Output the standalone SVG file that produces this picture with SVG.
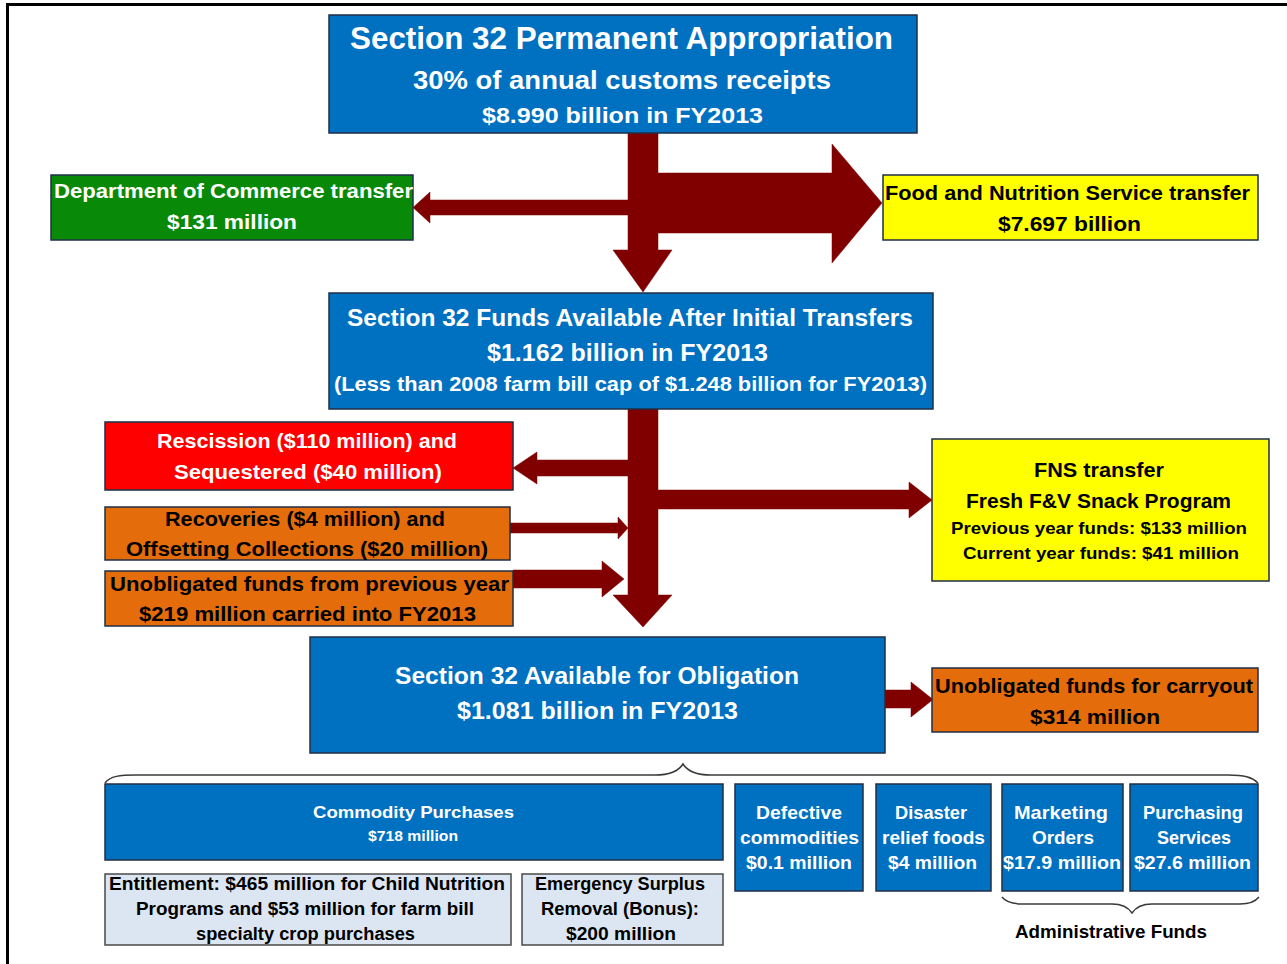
<svg xmlns="http://www.w3.org/2000/svg" width="1287" height="964" viewBox="0 0 1287 964">
<style>
.bx{stroke:#1f2f46;stroke-width:1.5}
.blue{fill:#0070c0}
.green{fill:#088a08}
.yellow{fill:#ffff00}
.red{fill:#ff0000}
.orange{fill:#e46c0a}
.light{fill:#dce6f2;stroke:#4a4a4a}
.t{font-family:"Liberation Sans",Arial,sans-serif;font-weight:bold;text-anchor:middle}
.w{fill:#ffffff}
.k{fill:#000000}
.arr{fill:#800000;stroke:#7a0000;stroke-width:0.5}
.brace{fill:none;stroke:#3a3a3a;stroke-width:1.5}
</style>
<rect x="0" y="0" width="1287" height="964" fill="#ffffff"/>
<path d="M1287,4.5 L7.5,4.5 L7.5,964" fill="none" stroke="#000" stroke-width="3"/>

<g id="connectors">
<polygon class="arr" points="628,133 658,133 658,250 672,250 643,292 613,250 628,250"/>
<polygon class="arr" points="628,200 430,200 430,192 413,207.5 430,223 430,215 628,215"/>
<polygon class="arr" points="658,173 832,173 832,144 882,203 832,263 832,233 658,233"/>
<polygon class="arr" points="628,409 658,409 658,595 672,595 643,627 613,595 628,595"/>
<polygon class="arr" points="628,460 537,460 537,452 513,468 537,484 537,476 628,476"/>
<polygon class="arr" points="650,490 909,490 909,482 932,500 909,518 909,509 650,509"/>
<polygon class="arr" points="510,523 618,523 618,517 628,528 618,539 618,533 510,533"/>
<polygon class="arr" points="513,570 602,570 602,561 624,579 602,597 602,588 513,588"/>
<polygon class="arr" points="885,690 911,690 911,682 933,699.5 911,717 911,708 885,708"/>
<path class="brace" d="M105,783 C110,776 120,775 136,775 L655,775 C668,775 678,772 683,764 C688,772 698,775 711,775 L1228,775 C1244,775 1252,777 1258,783"/>
<path class="brace" d="M1002,897 C1006,902 1012,904 1022,904 L1112,904 C1122,904 1128,907 1132,913 C1136,907 1142,904 1152,904 L1240,904 C1250,904 1255,902 1259,897"/>
</g>

<g id="permanent">
<rect class="bx blue" x="329" y="15" width="588" height="118"/>
<text class="t w" x="621.5" y="49" font-size="31" textLength="543" lengthAdjust="spacingAndGlyphs">Section 32 Permanent Appropriation</text>
<text class="t w" x="622" y="88.5" font-size="26" textLength="418" lengthAdjust="spacingAndGlyphs">30% of annual customs receipts</text>
<text class="t w" x="622.5" y="123" font-size="22" textLength="281" lengthAdjust="spacingAndGlyphs">$8.990 billion in FY2013</text>
</g>

<g id="commerce">
<rect class="bx green" x="51" y="175" width="362" height="65"/>
<text class="t w" x="233.5" y="198" font-size="20" textLength="359" lengthAdjust="spacingAndGlyphs">Department of Commerce transfer</text>
<text class="t w" x="232" y="229" font-size="20" textLength="130" lengthAdjust="spacingAndGlyphs">$131 million</text>
</g>

<g id="fns">
<rect class="bx yellow" x="883" y="175" width="375" height="65"/>
<text class="t k" x="1067.5" y="200" font-size="20" textLength="365" lengthAdjust="spacingAndGlyphs">Food and  Nutrition Service transfer</text>
<text class="t k" x="1069.5" y="231" font-size="20" textLength="143" lengthAdjust="spacingAndGlyphs">$7.697 billion</text>
</g>

<g id="funds-available">
<rect class="bx blue" x="329" y="293" width="604" height="116"/>
<text class="t w" x="630" y="326" font-size="23" textLength="566" lengthAdjust="spacingAndGlyphs">Section 32 Funds Available After Initial Transfers</text>
<text class="t w" x="627.5" y="361" font-size="23" textLength="281" lengthAdjust="spacingAndGlyphs">$1.162 billion in FY2013</text>
<text class="t w" x="630.5" y="391" font-size="20" textLength="593" lengthAdjust="spacingAndGlyphs">(Less than 2008 farm bill cap of $1.248 billion for FY2013)</text>
</g>

<g id="rescission">
<rect class="bx red" x="105" y="422" width="408" height="68"/>
<text class="t w" x="307" y="448" font-size="21" textLength="300" lengthAdjust="spacingAndGlyphs">Rescission ($110 million) and</text>
<text class="t w" x="308" y="479" font-size="21" textLength="268" lengthAdjust="spacingAndGlyphs">Sequestered ($40 million)</text>
</g>

<g id="recoveries">
<rect class="bx orange" x="105" y="507" width="405" height="53"/>
<text class="t k" x="305" y="526" font-size="21" textLength="280" lengthAdjust="spacingAndGlyphs">Recoveries ($4 million) and</text>
<text class="t k" x="307" y="556" font-size="21" textLength="362" lengthAdjust="spacingAndGlyphs">Offsetting Collections ($20 million)</text>
</g>

<g id="unobligated-previous">
<rect class="bx orange" x="105" y="571" width="408" height="55"/>
<text class="t k" x="309.5" y="591" font-size="21" textLength="399" lengthAdjust="spacingAndGlyphs">Unobligated  funds from previous year</text>
<text class="t k" x="307.5" y="621" font-size="21" textLength="337" lengthAdjust="spacingAndGlyphs">$219 million carried into FY2013</text>
</g>

<g id="fns-snack">
<rect class="bx yellow" x="932" y="439" width="337" height="142"/>
<text class="t k" x="1099" y="477" font-size="21" textLength="130" lengthAdjust="spacingAndGlyphs">FNS transfer</text>
<text class="t k" x="1098.5" y="508" font-size="21" textLength="265" lengthAdjust="spacingAndGlyphs">Fresh F&amp;V Snack Program</text>
<text class="t k" x="1099" y="534" font-size="17" textLength="296" lengthAdjust="spacingAndGlyphs">Previous year funds: $133 million</text>
<text class="t k" x="1101" y="559" font-size="17" textLength="276" lengthAdjust="spacingAndGlyphs">Current year funds: $41 million</text>
</g>

<g id="available-obligation">
<rect class="bx blue" x="310" y="637" width="575" height="116"/>
<text class="t w" x="597" y="684" font-size="23" textLength="404" lengthAdjust="spacingAndGlyphs">Section 32 Available for Obligation</text>
<text class="t w" x="597.5" y="719" font-size="23" textLength="281" lengthAdjust="spacingAndGlyphs">$1.081 billion in FY2013</text>
</g>

<g id="carryout">
<rect class="bx orange" x="932" y="668" width="326" height="64"/>
<text class="t k" x="1094" y="693" font-size="21" textLength="318" lengthAdjust="spacingAndGlyphs">Unobligated funds for carryout</text>
<text class="t k" x="1095" y="724" font-size="21" textLength="130" lengthAdjust="spacingAndGlyphs">$314 million</text>
</g>

<g id="commodity">
<rect class="bx blue" x="105" y="784" width="618" height="76"/>
<text class="t w" x="413.5" y="818" font-size="17" textLength="201" lengthAdjust="spacingAndGlyphs">Commodity Purchases</text>
<text class="t w" x="413" y="841" font-size="14" textLength="90" lengthAdjust="spacingAndGlyphs">$718 million</text>
</g>

<g id="entitlement">
<rect class="light" x="105" y="874" width="406" height="71" stroke-width="1.5"/>
<text class="t k" x="307" y="890" font-size="18" textLength="396" lengthAdjust="spacingAndGlyphs">Entitlement: $465 million for Child Nutrition</text>
<text class="t k" x="305" y="915" font-size="18" textLength="338" lengthAdjust="spacingAndGlyphs">Programs and $53 million for farm bill</text>
<text class="t k" x="305.5" y="940" font-size="18" textLength="219" lengthAdjust="spacingAndGlyphs">specialty crop purchases</text>
</g>

<g id="emergency">
<rect class="light" x="522" y="874" width="201" height="71" stroke-width="1.5"/>
<text class="t k" x="620" y="890" font-size="18" textLength="170" lengthAdjust="spacingAndGlyphs">Emergency Surplus</text>
<text class="t k" x="620" y="915" font-size="18" textLength="158" lengthAdjust="spacingAndGlyphs">Removal (Bonus):</text>
<text class="t k" x="621" y="940" font-size="18" textLength="110" lengthAdjust="spacingAndGlyphs">$200 million</text>
</g>

<g id="defective">
<rect class="bx blue" x="735" y="784" width="128" height="107"/>
<text class="t w" x="799" y="819" font-size="19" textLength="86" lengthAdjust="spacingAndGlyphs">Defective</text>
<text class="t w" x="799.5" y="844" font-size="19" textLength="119" lengthAdjust="spacingAndGlyphs">commodities</text>
<text class="t w" x="799" y="869" font-size="19" textLength="106" lengthAdjust="spacingAndGlyphs">$0.1 million</text>
</g>

<g id="disaster">
<rect class="bx blue" x="876" y="784" width="115" height="107"/>
<text class="t w" x="931" y="819" font-size="19" textLength="72" lengthAdjust="spacingAndGlyphs">Disaster</text>
<text class="t w" x="933.5" y="844" font-size="19" textLength="103" lengthAdjust="spacingAndGlyphs">relief foods</text>
<text class="t w" x="932.5" y="869" font-size="19" textLength="89" lengthAdjust="spacingAndGlyphs">$4 million</text>
</g>

<g id="marketing">
<rect class="bx blue" x="1002" y="784" width="121" height="107"/>
<text class="t w" x="1061" y="819" font-size="19" textLength="94" lengthAdjust="spacingAndGlyphs">Marketing</text>
<text class="t w" x="1063" y="844" font-size="19" textLength="62" lengthAdjust="spacingAndGlyphs">Orders</text>
<text class="t w" x="1062" y="869" font-size="19" textLength="118" lengthAdjust="spacingAndGlyphs">$17.9 million</text>
</g>

<g id="purchasing">
<rect class="bx blue" x="1130" y="784" width="128" height="107"/>
<text class="t w" x="1193" y="819" font-size="19" textLength="100" lengthAdjust="spacingAndGlyphs">Purchasing</text>
<text class="t w" x="1194" y="844" font-size="19" textLength="74" lengthAdjust="spacingAndGlyphs">Services</text>
<text class="t w" x="1192.5" y="869" font-size="19" textLength="117" lengthAdjust="spacingAndGlyphs">$27.6 million</text>
</g>

<g id="admin-label">
<text class="t k" x="1111" y="938" font-size="18" textLength="192" lengthAdjust="spacingAndGlyphs">Administrative Funds</text>
</g>
</svg>
